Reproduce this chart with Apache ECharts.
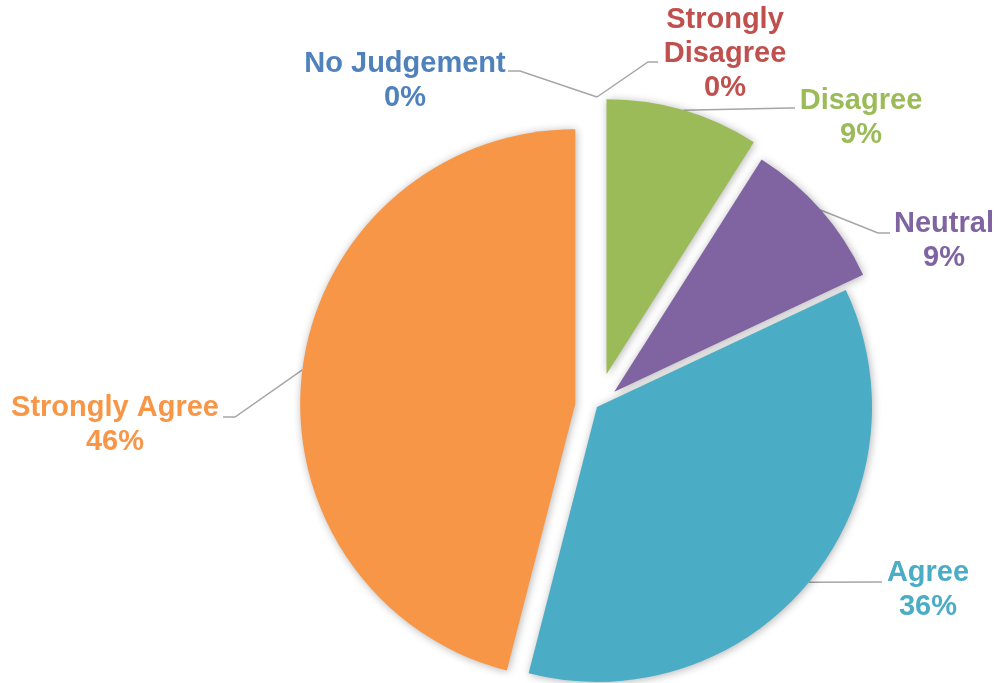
<!DOCTYPE html>
<html>
<head>
<meta charset="utf-8">
<script src="https://cdn.jsdelivr.net/npm/echarts@6/dist/echarts.min.js"></script>
<style>
  html, body { margin: 0; padding: 0; background: #ffffff; }
  #chart { width: 1000px; height: 683px; }
</style>
</head>
<body>
<div id="chart"></div>
<script>
// Survey responses, clockwise from 12 o'clock
const categories = ['No Judgement', 'Strongly Disagree', 'Disagree', 'Neutral', 'Agree', 'Strongly Agree'];
const values = [0, 0, 9, 9, 36, 46];

// Styling
const sliceColors = {
  'No Judgement': '#4F81BD',
  'Strongly Disagree': '#C0504D',
  'Disagree': '#9BBB59',
  'Neutral': '#8064A2',
  'Agree': '#4BACC6',
  'Strongly Agree': '#F79646'
};
const labelLines = { 'Strongly Disagree': 'Strongly\nDisagree' };
// how far each slice is pulled out of the pie (px)
const explode = {
  'No Judgement': 35, 'Strongly Disagree': 35, 'Disagree': 34,
  'Neutral': 23, 'Agree': 0, 'Strongly Agree': 22
};
// label anchor (centre of the text block) and the leader-line stub next to it
const labelPlace = {
  'No Judgement':      { at: [405, 81],  elbow: [520, 71],  end: [508, 71] },
  'Strongly Disagree': { at: [725, 54],  elbow: [648, 62],  end: [658, 62] },
  'Disagree':          { at: [861, 118], elbow: [790, 108], end: [795, 108] },
  'Neutral':           { at: [944, 241], elbow: [878, 233], end: [890, 233] },
  'Agree':             { at: [928, 590], elbow: [878, 582], end: [882, 582] },
  'Strongly Agree':    { at: [115, 425], elbow: [235, 417], end: [223, 417] }
};

const pieCenter = [597, 407];
const pieRadius = 275;
const fontFamily = 'Arial, "Liberation Sans", sans-serif';

const total = values.reduce((a, b) => a + b, 0);
// mid angle (radians, clockwise from top) of each slice
const midAngles = [];
{
  let cum = 0;
  values.forEach(v => {
    midAngles.push((cum + v / 2) / total * Math.PI * 2);
    cum += v;
  });
}

const series = categories.map((name, k) => {
  const a = midAngles[k];
  const ux = Math.sin(a), uy = -Math.cos(a);
  const cx = pieCenter[0] + ux * explode[name];
  const cy = pieCenter[1] + uy * explode[name];
  const edge = [cx + ux * pieRadius, cy + uy * pieRadius];
  return {
    type: 'pie',
    center: [cx, cy],
    radius: pieRadius,
    startAngle: 90,
    clockwise: true,
    silent: true,
    animation: false,
    avoidLabelOverlap: false,
    z: k,
    data: categories.map((n, i) => ({
      name: n,
      value: values[i],
      itemStyle: i === k
        ? { color: sliceColors[n], borderWidth: 0, shadowBlur: 8, shadowColor: 'rgba(0,0,0,0.3)', shadowOffsetX: 1, shadowOffsetY: 1 }
        : { color: 'rgba(0,0,0,0)', borderWidth: 0 },
      label: { show: i === k, color: sliceColors[n] },
      labelLine: { show: i === k }
    })),
    label: {
      position: 'outside',
      fontFamily: fontFamily,
      fontSize: 29,
      fontWeight: 'bold',
      lineHeight: 34,
      align: 'center',
      formatter: p => (labelLines[p.name] || p.name) + '\n' + Math.round(p.percent) + '%'
    },
    labelLine: {
      length: 20,
      length2: 10,
      lineStyle: { color: '#A6A6A6', width: 1.5 }
    },
    labelLayout: function (params) {
      const place = labelPlace[categories[params.dataIndex]];
      return {
        x: place.at[0],
        y: place.at[1],
        align: 'center',
        verticalAlign: 'middle',
        labelLinePoints: [edge, place.elbow, place.end]
      };
    }
  };
});

const chart = echarts.init(document.getElementById('chart'), null, { renderer: 'canvas' });
chart.setOption({
  backgroundColor: '#ffffff',
  animation: false,
  series: series
});
</script>
</body>
</html>
